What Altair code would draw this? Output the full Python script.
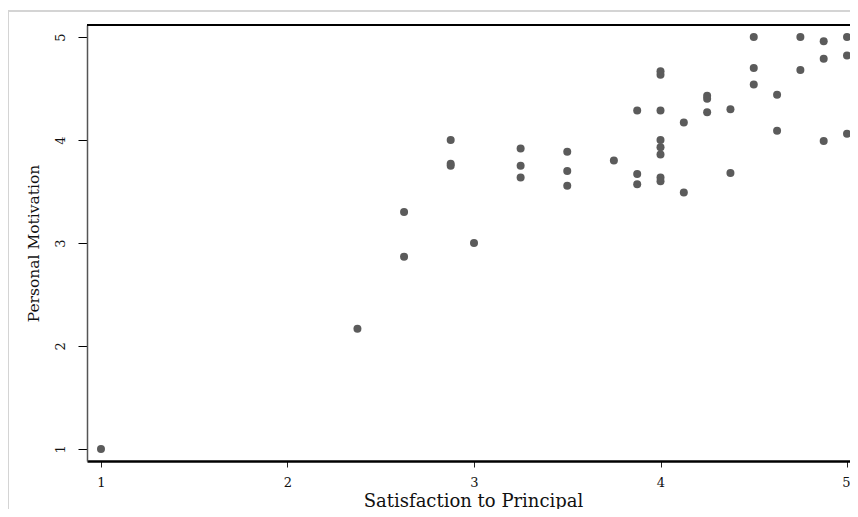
import altair as alt
import pandas as pd

satisfaction = [1.0, 2.375, 2.625, 2.625, 2.875, 2.875, 2.875, 3.0,
                3.25, 3.25, 3.25, 3.5, 3.5, 3.5, 3.75,
                3.875, 3.875, 3.875,
                4.0, 4.0, 4.0, 4.0, 4.0, 4.0, 4.0, 4.0,
                4.125, 4.125, 4.25, 4.25, 4.25, 4.375, 4.375,
                4.5, 4.5, 4.5, 4.625, 4.625, 4.75, 4.75,
                4.875, 4.875, 4.875, 5.0, 5.0, 5.0]
motivation = [1.0, 2.167, 3.3, 2.867, 4.0, 3.75, 3.77, 3.0,
              3.917, 3.75, 3.636, 3.886, 3.7, 3.556, 3.8,
              4.286, 3.67, 3.57,
              4.667, 4.633, 4.286, 4.0, 3.93, 3.86, 3.636, 3.6,
              4.17, 3.49, 4.43, 4.4, 4.27, 4.3, 3.68,
              5.0, 4.7, 4.54, 4.44, 4.09, 5.0, 4.68,
              4.96, 4.79, 3.99, 5.0, 4.82, 4.06]
x_ticks = [1, 2, 3, 4, 5]
y_ticks = [1, 2, 3, 4, 5]

df = pd.DataFrame({"sat": satisfaction, "mot": motivation})

W, H = 763, 436
FONT = "DejaVu Serif"

points = alt.Chart(df).mark_circle(size=64, color="#5b5b5b", opacity=1).encode(
    x=alt.X("sat:Q", title="Satisfaction to Principal",
            scale=alt.Scale(domain=[0.925, 5.016], nice=False, zero=False),
            axis=alt.Axis(values=x_ticks, format="d", grid=False,
                          domainColor="#000000", domainWidth=2.5,
                          tickColor="#222222", tickSize=6, tickWidth=1,
                          labelFont=FONT, labelFontSize=13, labelColor="#111111",
                          labelPadding=9, labelFlush=5, labelFlushOffset=3,
                          titleFont=FONT, titleFontSize=18, titleFontWeight="normal",
                          titleColor="#111111", titleBaseline="alphabetic",
                          titleY=45, titleX=386)),
    y=alt.Y("mot:Q", title="Personal Motivation",
            scale=alt.Scale(domain=[0.883, 5.117], nice=False, zero=False),
            axis=alt.Axis(values=y_ticks, format="d", grid=False,
                          domainColor="#555555", domainWidth=1.5,
                          tickColor="#000000", tickSize=9, tickWidth=1,
                          labelFont=FONT, labelFontSize=13, labelColor="#111111",
                          labelAngle=270, labelAlign="center", labelBaseline="bottom",
                          labelPadding=11,
                          titleFont=FONT, titleFontSize=15.5, titleFontWeight="normal",
                          titleColor="#111111", titlePadding=13)),
)

top_frame = alt.Chart(df).mark_rule(color="#000000", strokeWidth=1.2).encode(
    x=alt.value(0), x2=alt.value(W), y=alt.value(0))

outer_top = alt.Chart(df).mark_rule(color="#d4d4d4", strokeWidth=2).encode(
    x=alt.value(-79), x2=alt.value(W + 10), y=alt.value(-14))
outer_left = alt.Chart(df).mark_rule(color="#d4d4d4", strokeWidth=2).encode(
    x=alt.value(-79), y=alt.value(-14), y2=alt.value(H + 80))

chart = alt.layer(outer_top, outer_left, top_frame, points).properties(
    width=W, height=H,
    autosize=alt.AutoSizeParams(type="none"),
    padding={"left": 79, "top": 17, "right": 0, "bottom": 48},
).configure_view(stroke=None).configure(background="#ffffff")

chart.save("out.html", embed_options={"renderer": "svg", "actions": False})
